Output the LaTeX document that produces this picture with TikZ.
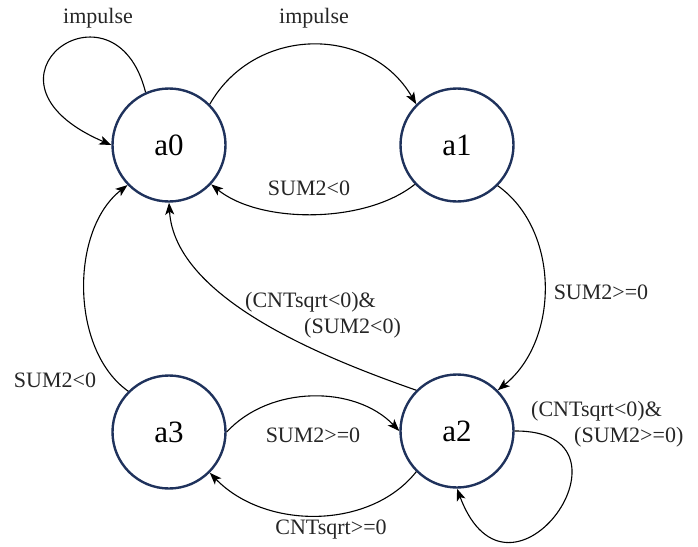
\documentclass[tikz,border=0pt]{standalone}
\usepackage{fontspec}
\setmainfont{Liberation Serif}
\usetikzlibrary{arrows.meta}
\definecolor{navy}{RGB}{31,50,92}
\tikzset{
  state/.style={circle,draw=navy,line width=2.4pt,minimum size=113pt,inner sep=0pt,font=\fontsize{31}{36}\selectfont},
  lbl/.style={inner sep=0pt,text=black!85,font=\fontsize{22}{26}\selectfont},
  edge/.style={line width=1.1pt,-{Stealth[length=12pt,width=9pt,inset=3pt]}}
}
\begin{document}
\begin{tikzpicture}[x=1pt,y=-1pt]
\useasboundingbox (0,0) rectangle (698,546);
\node[state] (a0) at (169,145) {a0};
\node[state] (a1) at (457,145) {a1};
\node[state] (a3) at (169,432) {a3};
\node[state] (a2) at (457,431) {a2};
% labels
\node[lbl] (l1) at (98,18) {impulse};
\node[lbl] (l2) at (314,18) {impulse};
\node[lbl] (l3) at (309,188) {SUM2<0};
\node[lbl] (l4) at (601,292) {SUM2>=0};
\node[lbl,align=left,anchor=west] (l5) at (245,315) {(CNTsqrt<0)\&\\\hspace*{59pt}(SUM2<0)};
\node[lbl] (l6) at (55,380) {SUM2<0};
\node[lbl] (l7) at (313,435) {SUM2>=0};
\node[lbl,align=left,anchor=west] (l8) at (531,424) {(CNTsqrt<0)\&\\\hspace*{43pt}(SUM2>=0)};
\node[lbl] (l9) at (331,530) {CNTsqrt>=0};
% edges
\draw[edge] (a0.114) .. controls (115,-30) and (-40,80) .. (a0.180);
\draw[edge] (a0.45) .. controls (255,25) and (370,25) .. (a1.135);
\draw[edge] (a1.223) .. controls (365,224) and (260,224) .. (a0.317);
\draw[edge] (a1.315) .. controls (560,230) and (560,340) .. (a2.45);
\draw[edge] (a2.135) .. controls (330,360) and (175,300) .. (a0.270);
\draw[edge] (a3.135) .. controls (70,350) and (70,230) .. (a0.224);
\draw[edge] (a3.0) .. controls (270,385) and (355,385) .. (a2.180);
\draw[edge] (a2.225) .. controls (370,530) and (265,530) .. (a3.315);
\draw[edge] (a2.0) .. controls (650,430) and (510,630) .. (a2.270);
\end{tikzpicture}
\end{document}
